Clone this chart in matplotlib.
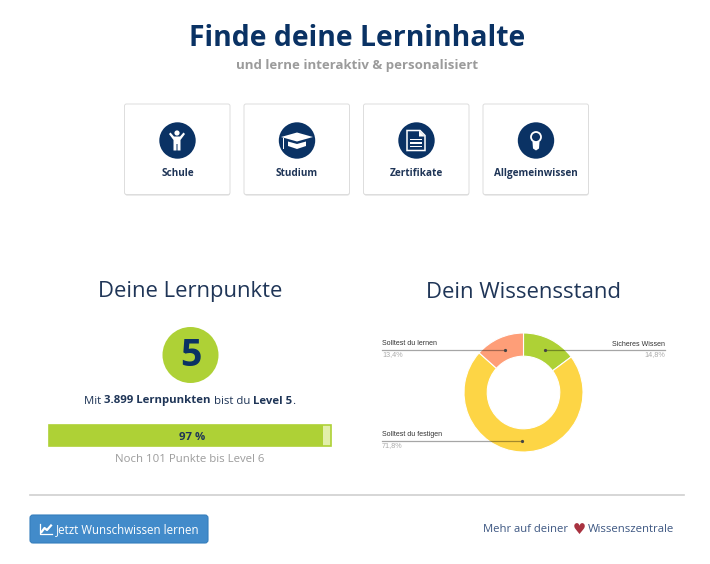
import matplotlib
matplotlib.use('Agg')
import matplotlib.pyplot as plt
from matplotlib.patches import Circle, FancyBboxPatch, Polygon, Rectangle

W, H = 710, 564
NAVY = '#0a3264'
DARK = '#1f3557'
GREEN = '#aed136'

# data
card_labels = ['Schule', 'Studium', 'Zertifikate', 'Allgemeinwissen']
pie_labels = ['Sicheres Wissen', 'Solltest du festigen', 'Solltest du lernen']
pie_values = [14.8, 71.8, 13.4]
pie_texts = ['14,8%', '71,8%', '13,4%']
pie_colors = ['#aed136', '#fdd545', '#fe9e78']
progress = 97
level = 5

plt.rcParams['font.family'] = ['Open Sans', 'DejaVu Sans']

fig = plt.figure(figsize=(W / 100, H / 100), dpi=100, facecolor='white')


def px_axes(x0, y0, x1, y1):
    # axes from pixel box, y measured from the top
    return fig.add_axes([x0 / W, 1 - y1 / H, (x1 - x0) / W, (y1 - y0) / H])


ax = fig.add_axes([0, 0, 1, 1])
ax.set_xlim(0, W)
ax.set_ylim(H, 0)
ax.axis('off')

ax.text(357, 38.5, 'Finde deine Lerninhalte', fontsize=20.4, fontweight='bold', color=NAVY,
        ha='center', va='center')
ax.text(357, 65.5, 'und lerne interaktiv & personalisiert', fontsize=9.5, fontweight='bold',
        color='#9b9b9b', ha='center', va='center')

# cards
card_x = [124.5, 244, 363.5, 483]
for x, label in zip(card_x, card_labels):
    ax.add_patch(FancyBboxPatch((x + 0.5, 105.5), 105, 90, boxstyle='round,pad=0,rounding_size=2',
                                fc='#d8d8d8', ec='none'))
    ax.add_patch(FancyBboxPatch((x, 104), 105.5, 90.5, boxstyle='round,pad=0,rounding_size=2',
                                fc='white', ec='#dddddd', lw=0.7))
    ax.add_patch(Circle((x + 53, 140.5), 18.2, fc=NAVY, ec='none'))
    ax.text(x + 53, 173.5, label, fontsize=7.2, fontweight='bold', color=DARK, ha='center', va='center')

# person icon
cx = 177
ax.add_patch(Circle((cx, 133), 2.6, fc='white', ec='none'))
ax.add_patch(Polygon([(cx - 8, 134), (cx - 6.5, 132.5), (cx - 3, 136.5), (cx + 3, 136.5), (cx + 6.5, 132.5),
                      (cx + 8, 134), (cx + 3.5, 140), (cx + 3.5, 150.5), (cx + 0.5, 150.5), (cx + 0.5, 144),
                      (cx - 0.5, 144), (cx - 0.5, 150.5), (cx - 3.5, 150.5), (cx - 3.5, 140)], fc='white', ec='none'))
# graduation cap icon
cx = 297
ax.add_patch(Polygon([(cx - 16, 137), (cx, 132.5), (cx + 16, 137), (cx, 141.5)], fc='white', ec='none'))
ax.add_patch(Polygon([(cx - 9, 141.5), (cx, 144), (cx + 9, 141.5), (cx + 9, 146), (cx, 149), (cx - 9, 146)],
                     fc='white', ec='none'))
ax.add_patch(Rectangle((cx - 14, 138), 0.9, 11, fc='white', ec='none'))
# document icon
cx = 416
ax.add_patch(Polygon([(cx - 9, 130.5), (cx + 4, 130.5), (cx + 9, 135.5), (cx + 9, 150.5), (cx - 9, 150.5)],
                     fc='none', ec='white', lw=1.1))
ax.add_patch(Polygon([(cx + 3, 130.5), (cx + 9, 136.5), (cx + 3, 136.5)], fc='white', ec='none'))
for yy in [138.5, 142, 145.5]:
    ax.add_patch(Rectangle((cx - 6, yy), 12, 1.6, fc='white', ec='none'))
# bulb icon
cx = 536
ax.add_patch(Circle((cx, 137), 5, fc='none', ec='white', lw=1.3))
ax.add_patch(Polygon([(cx - 3.5, 142), (cx + 3.5, 142), (cx + 3, 148.5), (cx, 150.5), (cx - 3, 148.5)],
                     fc='white', ec='none'))

# left panel
ax.text(190, 292, 'Deine Lernpunkte', fontsize=15.8, color=DARK, ha='center', va='center')
ax.add_patch(Circle((190.5, 355), 28, fc=GREEN, ec='none'))
ax.text(190.5, 355.5, str(level), fontsize=27, fontweight='bold', color=NAVY, ha='center', va='center')


def text_runs(x_center, y, runs, size, color):
    # mixed regular and bold text on one centered line
    renderer = fig.canvas.get_renderer()
    items = [ax.text(0, y, s, fontsize=size, fontweight=w, color=color, va='center', ha='left')
             for s, w in runs]
    widths = [t.get_window_extent(renderer).width for t in items]
    x = x_center - sum(widths) / 2
    for t, w in zip(items, widths):
        t.set_x(x)
        x += w


text_runs(190, 401, [('Mit\u00a0', 'normal'), ('3.899 Lernpunkten', 'bold'), ('\u00a0bist du\u00a0', 'normal'),
                     (f'Level {level}', 'bold'), ('.', 'normal')], 8.2, DARK)

bar_ax = px_axes(48, 424, 333, 447)
bar_ax.barh([0], [100], height=1, color='#e2efaa', edgecolor=GREEN, linewidth=1.2)
bar_ax.barh([0], [progress], height=1, color=GREEN)
bar_ax.set_xlim(-0.4, 100.6)
bar_ax.set_ylim(-0.55, 0.55)
bar_ax.axis('off')
ax.text(190, 459, 'Noch 101 Punkte bis Level 6', fontsize=8.2, color='#9c9c9c', ha='center', va='center')

# right panel
ax.text(524, 292, 'Dein Wissensstand', fontsize=15.9, color=DARK, ha='center', va='center')

pie_ax = px_axes(464, 333, 583, 452)
pie_ax.pie(pie_values, colors=pie_colors, startangle=90, counterclock=False, radius=1,
           wedgeprops={'width': 0.39, 'edgecolor': 'white', 'linewidth': 0.8})
pie_ax.set_xlim(-1, 1)
pie_ax.set_ylim(-1, 1)

# labels and callouts sit on top of the bar and the donut
over = fig.add_axes([0, 0, 1, 1], facecolor='none')
over.set_xlim(0, W)
over.set_ylim(H, 0)
over.axis('off')
over.text(192, 438, f'{progress} %', fontsize=8.2, fontweight='bold', color=DARK, ha='center', va='center')

callouts = [(665, 545, 350, 'right'), (382, 522, 441, 'left'), (382, 505, 349.5, 'left')]
for (x0, x1, y, ha), label, val in zip(callouts, pie_labels, pie_texts):
    over.plot([x0, x1], [y, y], color='black', alpha=0.35, lw=0.9)
    over.plot([x1], [y], 'o', ms=1.3, color='#444444')
    over.text(x0, y - 2.5, label, family='Liberation Sans', fontsize=5.0, color='#333333', ha=ha, va='bottom')
    over.text(x0, y + 1.5, val, family='Liberation Sans', fontsize=5.2, color='#aaaaaa', ha=ha, va='top')

# footer
ax.plot([30, 684], [495, 495], color='#cfcfcf', lw=1.2)
ax.add_patch(FancyBboxPatch((30, 515), 178, 28, boxstyle='round,pad=0,rounding_size=3',
                            fc='#428bca', ec='#357ebd', lw=0.8))
ax.plot([40, 40, 52], [524, 534, 534], color='white', lw=0.9)
ax.plot([41.5, 44.5, 47, 51], [532, 528, 530, 525.5], color='white', lw=1.6)
ax.text(56, 530, 'Jetzt Wunschwissen lernen', fontsize=8.3, color='white', ha='left', va='center')
ax.text(483, 530, 'Mehr auf deiner', fontsize=8.1, color='#3d5782', ha='left', va='center')
ax.text(579, 530, '\u2665', family='DejaVu Sans', fontsize=10.5, color='#a83240', ha='center', va='center')
ax.text(588, 530, 'Wissenszentrale', fontsize=8.2, color='#3d5782', ha='left', va='center')

fig.savefig('out.png', dpi=100, facecolor='white')
